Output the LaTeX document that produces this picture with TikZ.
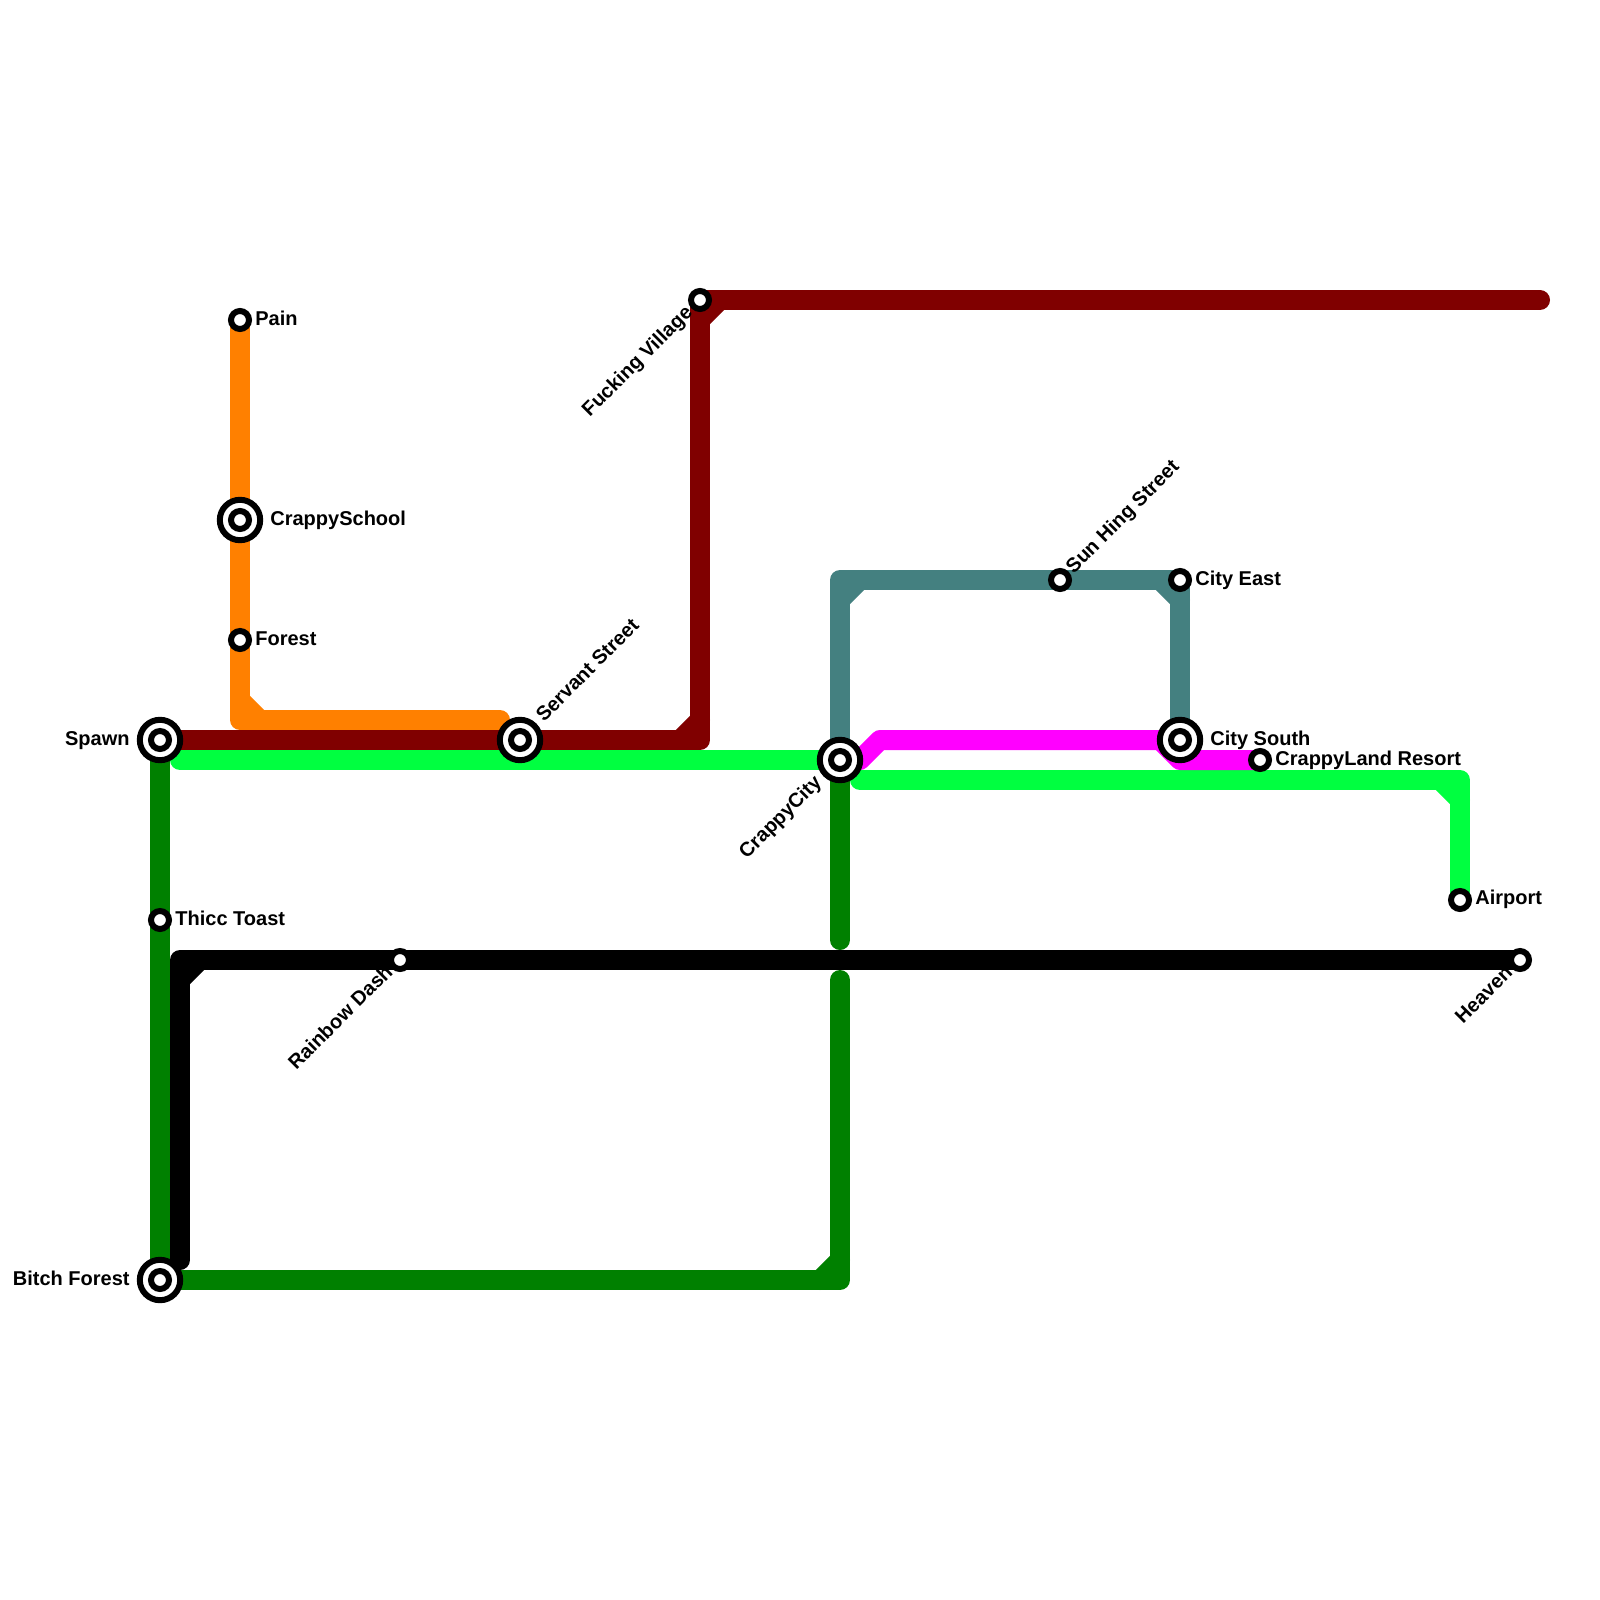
\documentclass[tikz,border=0pt]{standalone}
\usepackage{fontspec}
\setmainfont{Liberation Sans}
\usetikzlibrary{backgrounds}
\definecolor{orangeline}{HTML}{FF8000}
\definecolor{redline}{HTML}{800000}
\definecolor{limeline}{HTML}{00FF40}
\definecolor{greenline}{HTML}{008000}
\definecolor{tealline}{HTML}{448080}
\definecolor{pinkline}{HTML}{FF00FF}
\tikzset{
    metro/.style={line width=10pt, line cap=round, line join=round},
    stopnode/.style={circle, draw=black, fill=white, line width=3pt, minimum size=9pt, inner sep=0pt},
    hubnode/.style={circle, draw=black, fill=white, line width=3pt, minimum size=20.2pt, inner sep=0pt,
        path picture={\draw[black, line width=3pt] (path picture bounding box.center) circle (4.5pt);}},
    stoplabel/.style={inner sep=0pt, font=\bfseries\fontsize{10}{12}\selectfont, text=black}
}
\begin{document}
\begin{tikzpicture}[x=0.5pt, y=-0.5pt]
    \useasboundingbox (0,0) rectangle (1600,1600);
    % stations
    \node[stopnode] (pain) at (240,320) {};
    \node[hubnode] (school) at (240,520) {};
    \node[stopnode] (forest) at (240,640) {};
    \node[hubnode] (spawn) at (160,740) {};
    \node[hubnode] (servant) at (520,740) {};
    \node[stopnode] (village) at (700,300) {};
    \node[hubnode] (city) at (840,760) {};
    \node[stopnode] (sunhing) at (1060,580) {};
    \node[stopnode] (east) at (1180,580) {};
    \node[hubnode] (south) at (1180,740) {};
    \node[stopnode] (resort) at (1260,760) {};
    \node[stopnode] (airport) at (1460,900) {};
    \node[stopnode] (toast) at (160,920) {};
    \node[stopnode] (dash) at (400,960) {};
    \node[stopnode] (heaven) at (1520,960) {};
    \node[hubnode] (bitch) at (160,1280) {};
    % corners and free ends
    \coordinate (orangea) at (240,700);
    \coordinate (orangec) at (240,720);
    \coordinate (orangeb) at (260,720);
    \coordinate (orangeend) at (500,720);
    \coordinate (reda) at (680,740);
    \coordinate (redc) at (700,740);
    \coordinate (redb) at (700,720);
    \coordinate (redd) at (700,320);
    \coordinate (rede) at (720,300);
    \coordinate (redend) at (1540,300);
    \coordinate (limestart) at (180,760);
    \coordinate (limenext) at (860,780);
    \coordinate (limea) at (1440,780);
    \coordinate (limec) at (1460,780);
    \coordinate (limeb) at (1460,800);
    \coordinate (tealc) at (840,580);
    \coordinate (teala) at (840,600);
    \coordinate (tealb) at (860,580);
    \coordinate (teald) at (1160,580);
    \coordinate (teale) at (1180,600);
    \coordinate (pinka) at (860,760);
    \coordinate (pinkb) at (880,740);
    \coordinate (pinkc) at (1160,740);
    \coordinate (pinkd) at (1180,760);
    \coordinate (greenend) at (840,940);
    \coordinate (greenstart) at (840,980);
    \coordinate (greena) at (840,1260);
    \coordinate (greenc) at (840,1280);
    \coordinate (greenb) at (820,1280);
    \coordinate (blackc) at (180,960);
    \coordinate (blacka) at (180,980);
    \coordinate (blackb) at (200,960);
    \coordinate (blackend) at (180,1260);
    % lines
    \begin{scope}[on background layer]
        \draw[metro, orangeline] (pain.center) -- (school.center) -- (forest.center) -- (orangec) -- (orangeend);
        \draw[metro, orangeline] (orangea) -- (orangeb);
        \draw[metro, redline] (spawn.center) -- (servant.center) -- (redc) -- (village.center) -- (redend);
        \draw[metro, redline] (reda) -- (redb);
        \draw[metro, redline] (redd) -- (rede);
        \draw[metro, limeline] (limestart) -- (city.center);
        \draw[metro, limeline] (limenext) -- (limec) -- (airport.center);
        \draw[metro, limeline] (limea) -- (limeb);
        \draw[metro, tealline] (city.center) -- (tealc) -- (sunhing.center) -- (east.center) -- (south.center);
        \draw[metro, tealline] (teala) -- (tealb);
        \draw[metro, tealline] (teald) -- (teale);
        \draw[metro, pinkline] (pinka) -- (pinkb) -- (pinkc) -- (pinkd) -- (resort.center);
        \draw[metro, greenline] (city.center) -- (greenend);
        \draw[metro, greenline] (greenstart) -- (greenc) -- (bitch.center) -- (toast.center) -- (spawn.center);
        \draw[metro, greenline] (greena) -- (greenb);
        \draw[metro, black] (blackend) -- (blackc) -- (dash.center) -- (heaven.center);
        \draw[metro, black] (blacka) -- (blackb);
    \end{scope}
    % labels
    \node[stoplabel, anchor=west] (painname) at (255,318) {Pain};
    \node[stoplabel, anchor=west] (schoolname) at (270,520) {CrappySchool};
    \node[stoplabel, anchor=west] (forestname) at (255,639) {Forest};
    \node[stoplabel, anchor=east] (spawnname) at (130,741) {Spawn};
    \node[stoplabel, anchor=east] (bitchname) at (130,1278) {Bitch Forest};
    \node[stoplabel, anchor=west] (toastname) at (175,918) {Thicc Toast};
    \node[stoplabel, anchor=west] (eastname) at (1195,580) {City East};
    \node[stoplabel, anchor=west] (southname) at (1210,740) {City South};
    \node[stoplabel, anchor=west] (resortname) at (1275,760) {CrappyLand Resort};
    \node[stoplabel, anchor=west] (airportname) at (1475,899) {Airport};
    \node[stoplabel, anchor=west, rotate=45] (sunhingname) at (1070,571) {Sun Hing Street};
    \node[stoplabel, anchor=west, rotate=45] (servantname) at (539,718) {Servant Street};
    \node[stoplabel, anchor=east, rotate=45] (villagename) at (690,310) {Fucking Village};
    \node[stoplabel, anchor=east, rotate=45] (cityname) at (819,780) {CrappyCity};
    \node[stoplabel, anchor=east, rotate=45] (dashname) at (389,968) {Rainbow Dash};
    \node[stoplabel, anchor=east, rotate=45] (heavenname) at (1509,969) {Heaven};
\end{tikzpicture}
\end{document}
